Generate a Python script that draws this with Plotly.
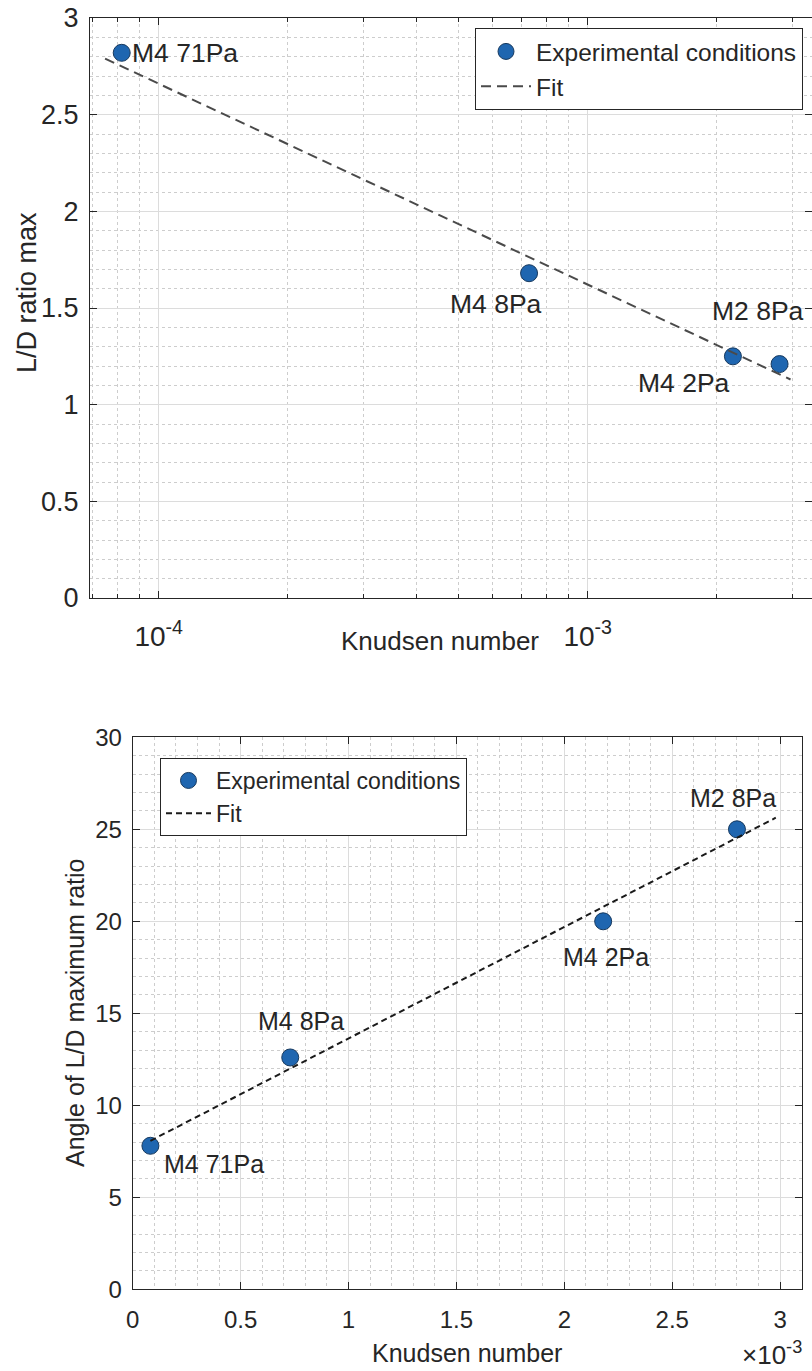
import numpy as np
import plotly.graph_objects as go

# Experimental conditions and measured quantities
conditions = ["M4 71Pa", "M4 8Pa", "M4 2Pa", "M2 8Pa"]
knudsen = [8.2e-5, 7.3e-4, 2.18e-3, 2.8e-3]
ld_ratio_max = [2.82, 1.68, 1.25, 1.21]
angle_ld_max = [7.8, 12.6, 20.0, 25.0]

# Fitted trends (end points of each fit line)
fit_ld_x = [7.5e-5, 2.97e-3]
fit_ld_y = [2.79, 1.13]
fit_angle_x = [8.2e-5, 2.98e-3]
fit_angle_y = [8.07, 25.63]

# Tick labels
log_tickvals = [1e-4, 1e-3]
log_ticktext = ["10<sup>-4</sup>", "10<sup>-3</sup>"]
lin_tickvals = [0, 0.5e-3, 1e-3, 1.5e-3, 2e-3, 2.5e-3, 3e-3]
lin_ticktext = ["0", "0.5", "1", "1.5", "2", "2.5", "3"]

W, H = 812, 1371
FONT = "Liberation Sans, Arial, Helvetica, sans-serif"
INK = "#262626"
BLUE = "#1f66b0"
EDGE = "#17395e"
GRID = "#dcdcdc"
MINOR_GRID = "#cdcdcd"


def px_x(p):
    return p / W


def px_y(p):
    return 1 - p / H


fig = go.Figure()

# --- upper panel: L/D ratio max vs Knudsen number (log x) ---
fig.add_trace(go.Scatter(
    x=knudsen, y=ld_ratio_max, mode="markers", name="Experimental conditions",
    marker=dict(size=17, color=BLUE, line=dict(color=EDGE, width=1)),
    xaxis="x", yaxis="y", legend="legend"))
fig.add_trace(go.Scatter(
    x=fit_ld_x, y=fit_ld_y, mode="lines", name="Fit",
    line=dict(color="#4a4a4a", width=2, dash="10px,6px"),
    xaxis="x", yaxis="y", legend="legend"))

# --- lower panel: angle of L/D max vs Knudsen number (linear x) ---
fig.add_trace(go.Scatter(
    x=knudsen, y=angle_ld_max, mode="markers", name="Experimental conditions",
    marker=dict(size=17, color=BLUE, line=dict(color=EDGE, width=1)),
    xaxis="x2", yaxis="y2", legend="legend2"))
fig.add_trace(go.Scatter(
    x=fit_angle_x, y=fit_angle_y, mode="lines", name="Fit",
    line=dict(color="#1a1a1a", width=2, dash="6px,4px"),
    xaxis="x2", yaxis="y2", legend="legend2"))

axis_common = dict(
    showline=True, linecolor=INK, linewidth=1, mirror="ticks",
    ticks="inside", ticklen=7, tickcolor=INK, tickwidth=1,
    showgrid=True, gridcolor=GRID, gridwidth=1, zeroline=False,
    tickfont=dict(family=FONT, color=INK),
)

minor_log = [7e-5, 8e-5, 9e-5] + [k * 1e-4 for k in range(2, 10)] + [2e-3, 3e-3]

fig.update_layout(
    width=W, height=H, margin=dict(l=0, r=0, t=0, b=0),
    paper_bgcolor="white", plot_bgcolor="white", template="none",
    font=dict(family=FONT, color=INK),
    xaxis=dict(
        axis_common, type="log", domain=[px_x(90), 1.0], range=[-4.1601, -2.4772],
        tickmode="array", tickvals=log_tickvals, ticktext=log_ticktext,
        tickfont=dict(family=FONT, color=INK, size=28), ticklabelstandoff=13,
        minor=dict(tickmode="array", tickvals=minor_log, ticks="inside", ticklen=4,
                   tickcolor=INK, showgrid=True, gridcolor=MINOR_GRID, griddash="dot"),
        anchor="y"),
    yaxis=dict(
        axis_common, domain=[px_y(598), px_y(18)], range=[0, 3],
        tickmode="linear", tick0=0, dtick=0.5,
        tickfont=dict(family=FONT, color=INK, size=27), ticklabelstandoff=5,
        minor=dict(dtick=0.1, ticks="", showgrid=True, gridcolor=MINOR_GRID, griddash="dot"),
        anchor="x"),
    xaxis2=dict(
        axis_common, domain=[px_x(132.7), px_x(801.7)], range=[0, 3.1e-3],
        tickmode="array", tickvals=lin_tickvals, ticktext=lin_ticktext,
        tickfont=dict(family=FONT, color=INK, size=24), ticklabelstandoff=9,
        minor=dict(dtick=1e-4, tick0=0, ticks="", showgrid=True, gridcolor=MINOR_GRID, griddash="dot"),
        anchor="y2"),
    yaxis2=dict(
        axis_common, domain=[px_y(1289.3), px_y(737.3)], range=[0, 30],
        tickmode="linear", tick0=0, dtick=5,
        tickfont=dict(family=FONT, color=INK, size=24), ticklabelstandoff=5,
        minor=dict(dtick=1, ticks="", showgrid=True, gridcolor=MINOR_GRID, griddash="dot"),
        anchor="x2"),
    legend=dict(
        x=px_x(803), y=px_y(28), xanchor="right", yanchor="top",
        bgcolor="white", bordercolor=INK, borderwidth=1,
        font=dict(family=FONT, color=INK, size=24.5), itemwidth=50,
        tracegroupgap=0),
    legend2=dict(
        x=px_x(160), y=px_y(758), xanchor="left", yanchor="top",
        bgcolor="white", bordercolor=INK, borderwidth=1,
        font=dict(family=FONT, color=INK, size=23), itemwidth=45,
        tracegroupgap=0),
    showlegend=True,
)

# Point labels: (anchor, xshift, yshift) relative to each marker
top_label_pos = [("left", 8, 0), ("right", 15, -31), ("right", -1, -27), ("right", 26, 53)]
bottom_label_pos = [("left", 12, -18), ("left", -34, 36), ("left", -42, -36), ("left", -49, 31)]

for name, kn, val, (anc, dx, dy) in zip(conditions, knudsen, ld_ratio_max, top_label_pos):
    fig.add_annotation(x=np.log10(kn), y=val, xref="x", yref="y", text=name,
                       showarrow=False, xanchor=anc, yanchor="middle",
                       xshift=dx, yshift=dy,
                       font=dict(family=FONT, color=INK, size=26.5))

for name, kn, val, (anc, dx, dy) in zip(conditions, knudsen, angle_ld_max, bottom_label_pos):
    fig.add_annotation(x=kn, y=val, xref="x2", yref="y2", text=name,
                       showarrow=False, xanchor=anc, yanchor="middle",
                       xshift=dx, yshift=dy,
                       font=dict(family=FONT, color=INK, size=25))

# Axis titles
titles = [
    ("L/D ratio max", 27, 293, -90, 27),
    ("Knudsen number", 440, 641, 0, 26),
    ("Angle of L/D maximum ratio", 75, 1013, -90, 25),
    ("Knudsen number", 467, 1353, 0, 25),
]
for text, x, y, ang, size in titles:
    fig.add_annotation(x=px_x(x), y=px_y(y), xref="paper", yref="paper", text=text,
                       showarrow=False, xanchor="center", yanchor="middle", textangle=ang,
                       font=dict(family=FONT, color=INK, size=size))

# Exponent note for the lower x axis
fig.add_annotation(x=px_x(804), y=px_y(1353), xref="paper", yref="paper",
                   text="\u00d710<sup>-3</sup>", showarrow=False,
                   xanchor="right", yanchor="middle",
                   font=dict(family=FONT, color=INK, size=26))

fig.write_html("out.html")
